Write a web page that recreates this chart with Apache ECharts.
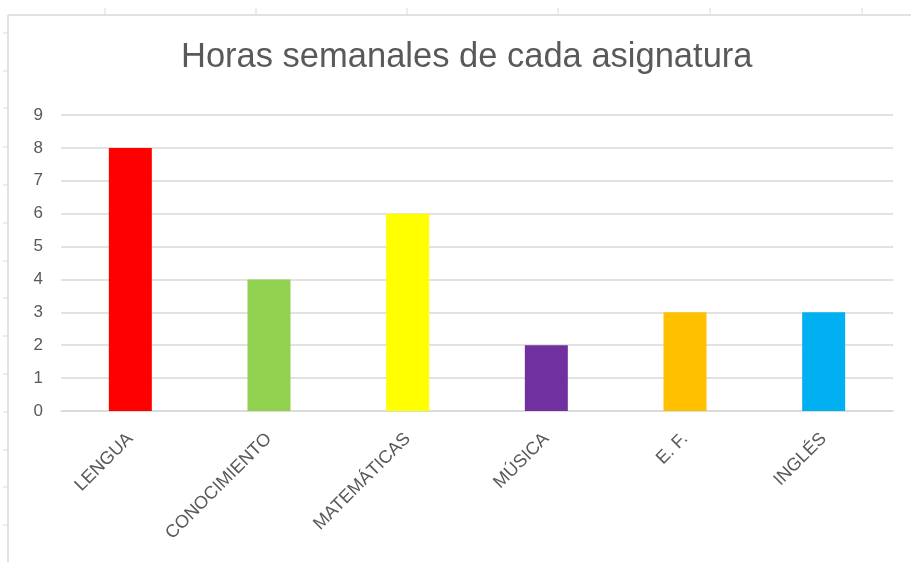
<!DOCTYPE html>
<html><head><meta charset="utf-8">
<script src="https://cdn.jsdelivr.net/npm/echarts@6/dist/echarts.min.js"></script>
<style>html,body{margin:0;padding:0;background:#fff}#c{width:911px;height:562px}</style>
</head><body><div id="c"></div>
<script>
const categories = ['LENGUA','CONOCIMIENTO','MATEMÁTICAS','MÚSICA','E. F.','INGLÉS'];
const hours = [8,4,6,2,3,3];
const barColors = ['#FF0000','#92D050','#FFFF00','#7030A0','#FFC000','#00B0F0'];
const yTicks = [0,1,2,3,4,5,6,7,8,9];

const chart = echarts.init(document.getElementById('c'));
const frame = [];
frame.push({type:'line',shape:{x1:8,y1:15,x2:911,y2:15},style:{stroke:'#d9d9d9',lineWidth:1.5},silent:true});
frame.push({type:'line',shape:{x1:8,y1:15,x2:8,y2:562},style:{stroke:'#d9d9d9',lineWidth:1.5},silent:true});
[105,256,407,558,710,862].forEach(x=>frame.push({type:'line',shape:{x1:x,y1:8,x2:x,y2:15},style:{stroke:'#d9d9d9',lineWidth:1},silent:true}));
[33,71,108,147,185,223,261,298,336,374,412,450,487,525].forEach(y=>frame.push({type:'line',shape:{x1:3,y1:y,x2:8,y2:y},style:{stroke:'#d9d9d9',lineWidth:1},silent:true}));

chart.setOption({
  animation:false,
  title:{text:'Horas semanales de cada asignatura',left:176,top:35,
    textStyle:{fontFamily:'Liberation Sans',fontSize:34.5,fontWeight:'normal',color:'#595959'}},
  graphic:frame,
  grid:{left:61,right:18,top:115,bottom:151},
  xAxis:{type:'category',data:categories,
    axisLine:{lineStyle:{color:'#d9d9d9',width:1.5}},axisTick:{show:false},
    axisLabel:{rotate:45,color:'#595959',fontFamily:'Liberation Sans',fontSize:18,margin:25,interval:0}},
  yAxis:{type:'value',min:yTicks[0],max:yTicks[yTicks.length-1],interval:1,
    axisLine:{show:false},axisTick:{show:false},
    splitLine:{lineStyle:{color:'#d9d9d9',width:1.5}},
    axisLabel:{color:'#595959',fontFamily:'Liberation Sans',fontSize:17,margin:18}},
  series:[{type:'bar',barWidth:'31%',
    data:hours.map((v,i)=>({value:v,itemStyle:{color:barColors[i]}}))}]
});
</script></body></html>
